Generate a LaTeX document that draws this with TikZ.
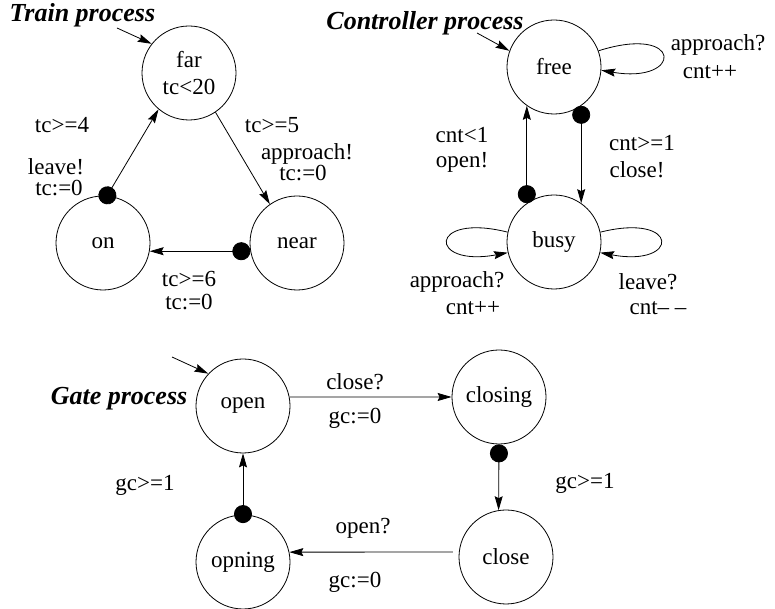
\documentclass[tikz,border=0pt]{standalone}
\usepackage{fontspec}
\setmainfont{Liberation Serif}
\usetikzlibrary{arrows.meta}
\tikzset{
  state/.style={draw,circle,minimum size=94pt,inner sep=0pt,line width=0.8pt,align=center},
  ttl/.style={font=\fontsize{26}{30}\selectfont\bfseries\itshape},
  arr/.style={-{Stealth[length=14pt,width=8pt,inset=2pt]},line width=0.8pt},
  urg/.style={{Circle[length=18pt]}-{Stealth[length=14pt,width=8pt,inset=2pt]},line width=0.8pt},
}
\begin{document}
\begin{tikzpicture}[x=1pt,y=1pt,every node/.style={font=\fontsize{23}{27}\selectfont}]
\useasboundingbox (0,0) rectangle (775,609);
% train
\node[ttl,anchor=west] (ttrain) at (6,594) {Train process};
\node[state] (far) at (189,536) {far\\tc<20};
\node[state] (on) at (103,366) {on};
\node[state] (near) at (297,366) {near};
\coordinate (farin) at (117,581);
\draw[arr] (farin) -- (far.142);
\draw[urg,shorten <=-8.5pt] (on.85) -- (far.230);
\draw[arr] (far.-56) -- (near.125);
\draw[urg] (near.190) -- (on.-10);
\node (g1) at (62,484) {tc>=4};
\node[align=center,font=\fontsize{23}{21}\selectfont] (s1) at (56,432) {leave!\\\hspace*{6pt}tc:=0};
\node (g2) at (272,484) {tc>=5};
\node[align=center,font=\fontsize{23}{19}\selectfont] (s2) at (307,447) {approach!\\tc:=0\hspace*{8pt}};
\node[align=center,font=\fontsize{23}{23}\selectfont] (g3) at (189,318) {tc>=6\\tc:=0};
% controller
\node[ttl] (tctrl) at (425,586) {Controller process};
\node[state] (free) at (554,542) {free};
\node[state] (busy) at (554,367) {busy};
\coordinate (freein) at (477,576);
\draw[arr] (freein) -- (free.160);
\draw[urg] (busy.125) -- (free.235);
\draw[urg] (free.-55) -- (busy.55);
\draw[arr] (free.20) .. controls +(85,27) and +(82,-14) .. (free.-4);
\draw[arr] (busy.12) .. controls +(80,20) and +(80,-15) .. (busy.-13);
\draw[arr] (busy.168) .. controls +(-80,20) and +(-80,-15) .. (busy.193);
\node (g4) at (462,474) {cnt<1};
\node (s4) at (462,447) {open!};
\node (g5) at (642,466) {cnt>=1};
\node (s5) at (637,439) {close!};
\node (s6) at (718,564) {approach?};
\node (a6) at (710,537) {cnt++};
\node (s7) at (457,327) {approach?};
\node (a7) at (473,301) {cnt++};
\node (s8) at (648,327) {leave?};
\node (a8) at (658,301) {cnt– –};
% gate
\node[ttl] (tgate) at (119,210) {Gate process};
\node[state] (open) at (243,203) {open};
\node[state] (closing) at (499,212) {closing};
\node[state] (close) at (506,52) {close};
\node[state] (opning) at (243,47) {opning};
\coordinate (openin) at (172,252);
\draw[arr] (openin) -- (open.137);
\draw[arr] (open.11) -- (closing.west);
\draw[urg] (closing.south) -- (close.99);
\draw[arr,shorten <=6pt] (close.174) -- (opning.12);
\draw[urg,shorten <=-8.5pt] (opning.north) -- (open.south);
\node (s9) at (355,227) {close?};
\node (a9) at (355,191) {gc:=0};
\node (g10) at (585,126) {gc>=1};
\node (s11) at (363,81) {open?};
\node (a11) at (355,27) {gc:=0};
\node (g12) at (145,124) {gc>=1};
\end{tikzpicture}
\end{document}
